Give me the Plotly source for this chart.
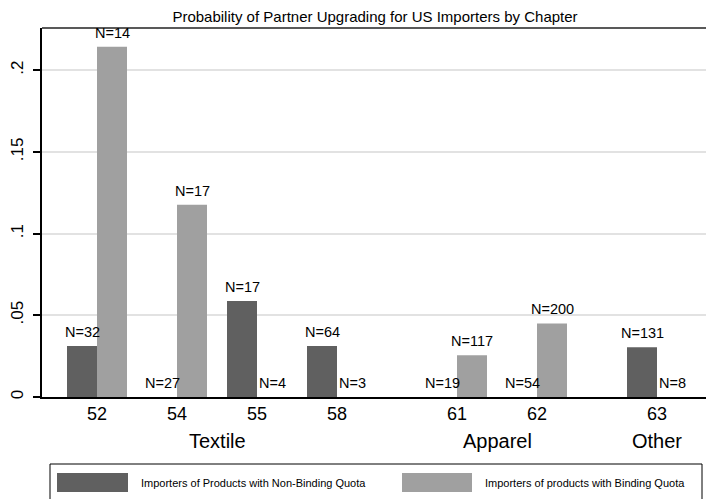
import plotly.graph_objects as go

# ---- data ----
groups = ["Textile", "Textile", "Textile", "Textile", "Apparel", "Apparel", "Other"]
chapters = ["52", "54", "55", "58", "61", "62", "63"]
nonbinding_prob = [0.03125, 0.0, 0.0588, 0.03125, 0.0, 0.0, 0.0305]
binding_prob = [0.2143, 0.1176, 0.0, 0.0, 0.0256, 0.045, 0.0]
nonbinding_n = [32, 27, 17, 64, 19, 54, 131]
binding_n = [14, 17, 4, 3, 117, 200, 8]
series_names = ["Importers of Products with Non-Binding Quota",
                "Importers of products with Binding Quota"]
title = "Probability of Partner Upgrading for US Importers by Chapter"

DARK = "#606060"
LIGHT = "#a0a0a0"

# ---- slot layout: one unit per chapter, extra gap between groups ----
GROUP_GAP = 0.5
pos = []
p = 0.0
for i, g in enumerate(groups):
    if i > 0:
        p += 1.0 + (GROUP_GAP if g != groups[i - 1] else 0.0)
    pos.append(p)
BW = 0.375

# page body has an 8px margin; figure is sized so it fits the window
OFF = 8
FW, FH = 714 - OFF, 499 - OFF
PW, PH = 666, 369  # plot area size in px

fig = go.Figure()
fig.add_trace(go.Bar(x=pos, y=nonbinding_prob, width=BW, offset=-BW,
                     marker=dict(color=DARK, line=dict(width=0)),
                     name=series_names[0], showlegend=False, hoverinfo="skip"))
fig.add_trace(go.Bar(x=pos, y=binding_prob, width=BW, offset=0,
                     marker=dict(color=LIGHT, line=dict(width=0)),
                     name=series_names[1], showlegend=False, hoverinfo="skip"))

ann = []
for x, v, n in zip(pos, nonbinding_prob, nonbinding_n):
    ann.append(dict(x=x - BW / 2, y=v, xref="x", yref="y", text=f"N={n}",
                    showarrow=False, yanchor="bottom", yshift=4,
                    font=dict(size=14.5, color="#000")))
for x, v, n in zip(pos, binding_prob, binding_n):
    ann.append(dict(x=x + BW / 2, y=v, xref="x", yref="y", text=f"N={n}",
                    showarrow=False, yanchor="bottom", yshift=4,
                    font=dict(size=14.5, color="#000")))

# group labels
seen = []
for g in groups:
    if g not in seen:
        seen.append(g)
for g in seen:
    xs = [x for x, gg in zip(pos, groups) if gg == g]
    ann.append(dict(x=(min(xs) + max(xs)) / 2, y=-31 / PH, xref="x", yref="paper",
                    text=g, showarrow=False, yanchor="top",
                    font=dict(size=20, color="#000")))

# legend (drawn manually to match box/swatch style); coords in screen px
def py(px):
    return (397 - px) / PH

def pxx(px):
    return (px - 42) / PW

shapes = [
    dict(type="rect", xref="paper", yref="paper", x0=pxx(50), x1=pxx(702),
         y0=py(515), y1=py(464), line=dict(color="#000", width=1), fillcolor="white"),
    dict(type="rect", xref="paper", yref="paper", x0=pxx(57), x1=pxx(128),
         y0=py(492), y1=py(473), line=dict(width=0), fillcolor=DARK),
    dict(type="rect", xref="paper", yref="paper", x0=pxx(402), x1=pxx(472),
         y0=py(492), y1=py(473), line=dict(width=0), fillcolor=LIGHT),
    # right and top frame
    dict(type="line", xref="paper", yref="paper", x0=0, x1=1, y0=1, y1=1,
         line=dict(color="#222", width=1.5)),
    dict(type="line", xref="paper", yref="paper", x0=1, x1=1, y0=0, y1=1,
         line=dict(color="#777", width=1.5)),
]
ann.append(dict(x=pxx(139), y=py(483), xref="paper", yref="paper",
                text=series_names[0], showarrow=False, xanchor="left",
                yanchor="middle", font=dict(size=11, color="#000")))
ann.append(dict(x=pxx(483), y=py(483), xref="paper", yref="paper",
                text=series_names[1], showarrow=False, xanchor="left",
                yanchor="middle", font=dict(size=11, color="#000")))

fig.update_layout(
    width=FW, height=FH,
    margin=dict(l=42 - OFF, r=FW - (708 - OFF), t=28 - OFF, b=FH - (397 - OFF),
                autoexpand=False),
    paper_bgcolor="white", plot_bgcolor="white",
    font=dict(family="Liberation Sans, Arial, sans-serif", color="#000"),
    title=dict(text=title, x=(375 - OFF) / FW, xanchor="center",
               y=1 - (17 - OFF) / FH, yanchor="middle",
               font=dict(size=15, color="#000")),
    barmode="overlay",
    annotations=ann, shapes=shapes,
    xaxis=dict(range=[-0.6875, 7.6375], tickmode="array", tickvals=pos,
               ticktext=chapters, showgrid=False, zeroline=False,
               showline=True, linecolor="#000", linewidth=1.5, automargin=False,
               ticks="", tickfont=dict(size=18), ticklabelstandoff=0),
    yaxis=dict(range=[0, 0.2258], tickmode="array",
               tickvals=[0, 0.05, 0.1, 0.15, 0.2],
               ticktext=["0", ".05", ".1", ".15", ".2"], automargin=False,
               tickangle=-90, tickfont=dict(size=17), ticklabelstandoff=3,
               showgrid=True, gridcolor="#e2e2e2", gridwidth=1.5,
               zeroline=False, showline=True, linecolor="#000", linewidth=1.5,
               ticks="outside", ticklen=7, tickcolor="#000", tickwidth=1.5),
)

fig.write_html("out.html")
